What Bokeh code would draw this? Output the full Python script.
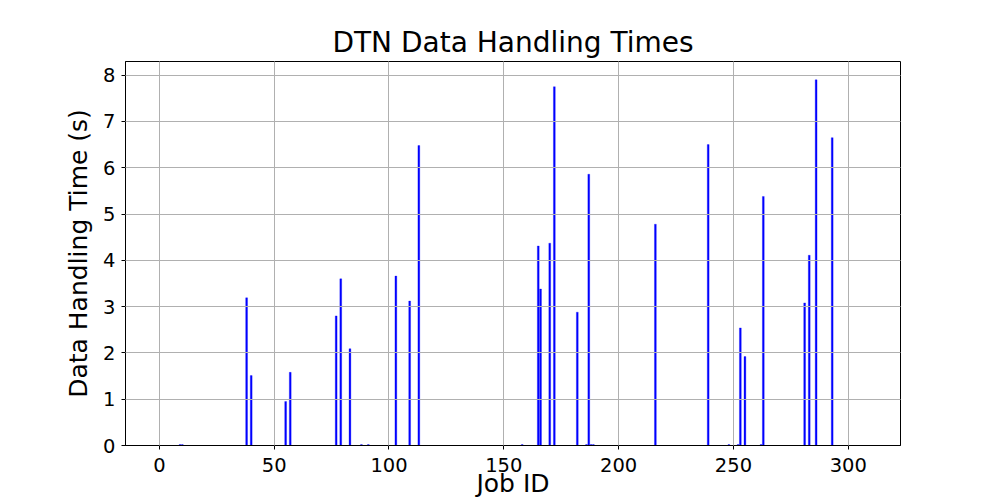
from bokeh.plotting import figure
from bokeh.models import Range1d, FixedTicker
from bokeh.embed import file_html
from bokeh.resources import INLINE

# ---- data ----
n_jobs = 307
job_ids = [9, 10, 38, 40, 55, 57, 77, 79, 83, 88, 91, 103, 109, 113, 158,
           165, 166, 170, 172, 182, 186, 187, 188, 189, 216, 239, 248, 252,
           253, 255, 262, 263, 281, 283, 286, 293]
times = [0.02, 0.02, 3.19, 1.51, 0.95, 1.58, 2.80, 3.60, 2.09, 0.02, 0.02,
         3.66, 3.12, 6.48, 0.02, 4.31, 3.38, 4.37, 7.75, 2.88, 0.02, 5.86,
         0.02, 0.02, 4.78, 6.50, 0.02, 0.02, 2.54, 1.92, 0.02, 5.38, 3.08,
         4.11, 7.90, 6.65]
x_ticks = [0, 50, 100, 150, 200, 250, 300]
y_ticks = [0, 1, 2, 3, 4, 5, 6, 7, 8]

bar_w = 0.8
lo, hi = 1 - bar_w / 2, n_jobs + bar_w / 2
pad = 0.05 * (hi - lo)
ymax = max(times) * 1.05

FONT = "DejaVu Sans"

p = figure(width=1000, height=500, output_backend="svg", toolbar_location=None,
           x_range=Range1d(lo - pad, hi + pad), y_range=Range1d(0, ymax),
           min_border_left=125, min_border_right=100, min_border_top=61,
           min_border_bottom=55)

p.vbar(x=job_ids, top=times, bottom=0, width=bar_w,
       fill_color="#0000ff", line_color="#0000ff", line_width=0.3)

p.title.text = "DTN Data Handling Times"
p.title.text_font = FONT
p.title.text_font_size = "28px"
p.title.text_font_style = "normal"
p.title.align = "center"
p.title.text_color = "black"
p.title.standoff = 5

p.outline_line_color = "black"
p.outline_line_width = 1
p.background_fill_color = "white"
p.border_fill_color = "white"

for ax in (p.xaxis[0], p.yaxis[0]):
    ax.axis_line_color = "black"
    ax.major_tick_line_color = "black"
    ax.major_tick_out = 4
    ax.major_tick_in = 0
    ax.minor_tick_line_color = None
    ax.major_label_text_font = FONT
    ax.major_label_text_font_size = "19.5px"
    ax.major_label_text_color = "black"
    ax.axis_label_text_font = FONT
    ax.axis_label_text_font_size = "25px"
    ax.axis_label_text_font_style = "normal"
    ax.axis_label_text_color = "black"

p.xaxis.ticker = FixedTicker(ticks=x_ticks)
p.yaxis.ticker = FixedTicker(ticks=y_ticks)
p.xaxis.axis_label = "Job ID"
p.yaxis.axis_label = "Data Handling Time (s)"
p.xaxis.major_label_standoff = 8
p.yaxis.major_label_standoff = 6
p.xaxis.axis_label_standoff = -6
p.yaxis.axis_label_standoff = 7

for g in (p.xgrid[0], p.ygrid[0]):
    g.grid_line_color = "#b0b0b0"
    g.grid_line_width = 1
    g.level = "annotation"
p.xgrid.ticker = FixedTicker(ticks=x_ticks)
p.ygrid.ticker = FixedTicker(ticks=y_ticks)

open("out.html", "w").write(file_html(p, INLINE))
